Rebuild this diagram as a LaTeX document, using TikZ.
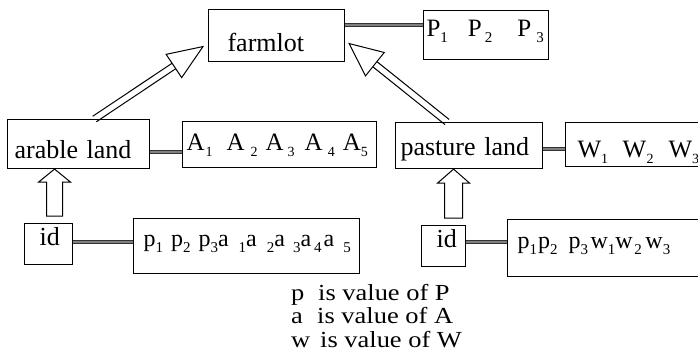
\documentclass[tikz,border=0pt]{standalone}
\usepackage{fontspec}
\setmainfont{Liberation Serif}
\newfontfamily\legendfont[FakeStretch=1.15]{Liberation Serif}
\usetikzlibrary{calc}
\newcommand\subd[1]{\raisebox{-6pt}{\fontsize{15}{15}\selectfont #1}}
\newcommand\subdsmall[1]{\raisebox{-6pt}{\fontsize{14}{14}\selectfont #1}}
\begin{document}
\begin{tikzpicture}[x=1pt,y=-1pt,
  box/.style={draw, line width=1.1pt, anchor=north west, inner ysep=0pt, align=left},
  big/.style={font=\fontsize{26}{30}\selectfont},
  mid/.style={font=\fontsize{24}{28}\selectfont},
  link/.style={draw=black!80, line width=1pt, double=black!50, double distance=2pt},
  hollow/.style={draw, line width=1pt, fill=white, line join=miter},
  shaft/.style={draw, line width=1pt}]
\useasboundingbox (0,0) rectangle (698,358);
\clip (0,0) rectangle (698,358);

% boxes
\node[box, big, text width=98pt, inner xsep=19pt, text height=42pt, text depth=10pt] (farm) at (208,9) {farmlot};
\node[box, font=\fontsize{25}{28}\selectfont, text width=119pt, inner xsep=3pt, text height=26pt, text depth=23pt] (P) at (423,10)
  {\mbox{P\subd{1}\hspace{20pt}P\hspace{3pt}\subd{2}\hspace{25pt}P\hspace{5pt}\subd{3}}};
\node[box, big, text width=128pt, inner xsep=7pt, text height=39pt, text depth=10pt] (arable) at (7,119) {arable land};
\node[box, font=\fontsize{25}{28}\selectfont, text width=186pt, inner xsep=4pt, text height=29pt, text depth=17pt] (A) at (182,121)
  {\mbox{A\hspace{1pt}\subdsmall{1}\hspace{14pt}A\hspace{6pt}\subdsmall{2}\hspace{8pt}A\hspace{4pt}\subdsmall{3}\hspace{10pt}A\hspace{5pt}\subdsmall{4}\hspace{8pt}A\subdsmall{5}}};
\node[box, big, text width=137pt, inner xsep=5pt, text height=33pt, text depth=13pt] (pasture) at (395,122) {pasture land};
\node[box, font=\fontsize{25}{28}\selectfont, text width=176pt, inner xsep=12pt, text height=35pt, text depth=9pt] (W) at (565,122)
  {\mbox{W\subdsmall{1}\hspace{14.4pt}W\hspace{0.4pt}\subdsmall{2}\hspace{15pt}W\subdsmall{3}}};
\node[box, big, text width=18pt, inner xsep=15pt, text height=22pt, text depth=19pt] (id1) at (24,223) {id};
\node[box, mid, text width=206pt, inner xsep=10pt, text height=28pt, text depth=27pt] (pb1) at (133,218)
  {\mbox{p\subd{1}\hspace{8pt}p\subd{2}\hspace{8pt}p\subd{3}a\hspace{10pt}\subd{1}a\hspace{10pt}\subd{2}a\hspace{8pt}\subd{3}a\hspace{3pt}\subd{4}\hspace{2pt}a\hspace{9pt}\subd{5}}};
\node[box, big, text width=14pt, inner xsep=15pt, text height=22pt, text depth=19pt] (id2) at (421,225) {id};
\node[box, mid, text width=180pt, inner xsep=10pt, text height=29pt, text depth=28pt] (pb2) at (507,219)
  {\mbox{p\subd{1}\hspace{1pt}p\subd{2}\hspace{11pt}p\subd{3}\hspace{2.5pt}w\subd{1}w\hspace{1.7pt}\subd{2}\hspace{3.5pt}w\subd{3}}};

% legend
\node[anchor=north west, align=left, inner sep=0pt, font=\legendfont\fontsize{23}{23.5}\selectfont] (legend) at (291,284)
  {\makebox[27pt][l]{p}is value of P\\ \makebox[26pt][l]{a}is value of A\\ \makebox[29pt][l]{w}is value of W};

% attribute links
\draw[link] ([yshift=-16pt]farm.north east) -- ([yshift=-16pt]farm.north east -| P.west);
\draw[link] ([yshift=-33pt]arable.north east) -- ([yshift=-33pt]arable.north east -| A.west);
\draw[link] ([yshift=-27pt]pasture.north east) -- ([yshift=-27pt]pasture.north east -| W.west);
\draw[link] ([yshift=-19pt]id1.north east) -- ([yshift=-19pt]id1.north east -| pb1.west);
\draw[link] ([yshift=-17pt]id2.north east) -- ([yshift=-17pt]id2.north east -| pb2.west);

% vertical block arrows (id -> land)
\coordinate (s1) at ($(id1.north)+(6,-7)$);
\coordinate (t1) at (s1 |- arable.south);
\draw[hollow] ($(s1)+(-8,0)$) -- ($(t1)+(-8,13)$) -- ($(t1)+(-16,13)$) -- (t1) -- ($(t1)+(16,13)$) -- ($(t1)+(8,13)$) -- ($(s1)+(8,0)$) -- cycle;
\coordinate (s2) at ($(id2.north)+(10,-7)$);
\coordinate (t2) at (s2 |- pasture.south);
\draw[hollow] ($(s2)+(-9,0)$) -- ($(t2)+(-9,14)$) -- ($(t2)+(-16,14)$) -- (t2) -- ($(t2)+(16,14)$) -- ($(t2)+(9,14)$) -- ($(s2)+(9,0)$) -- cycle;

% diagonal double-shaft arrows (land -> farmlot)
\coordinate (S1) at ($(arable.north)+(16,0)$);
\coordinate (T1) at ($(farm.west)+(-5,11)$);
\coordinate (M1) at ($(T1)!35pt!(S1)$);
\draw[shaft] ($(S1)!3.3pt!90:(T1)$) -- ($(M1)!3.3pt!-90:(S1)$);
\draw[shaft] ($(S1)!3.3pt!-90:(T1)$) -- ($(M1)!3.3pt!90:(S1)$);
\draw[hollow] (T1) -- ($(M1)!14pt!90:(T1)$) -- ($(M1)!14pt!-90:(T1)$) -- cycle;

\coordinate (S2) at ($(pasture.north)+(-22,0)$);
\coordinate (T2) at ($(farm.east)+(4,8)$);
\coordinate (M2) at ($(T2)!33pt!(S2)$);
\draw[shaft] ($(S2)!3.3pt!90:(T2)$) -- ($(M2)!3.3pt!-90:(S2)$);
\draw[shaft] ($(S2)!3.3pt!-90:(T2)$) -- ($(M2)!3.3pt!90:(S2)$);
\draw[hollow] (T2) -- ($(M2)!15pt!90:(T2)$) -- ($(M2)!15pt!-90:(T2)$) -- cycle;
\end{tikzpicture}
\end{document}
